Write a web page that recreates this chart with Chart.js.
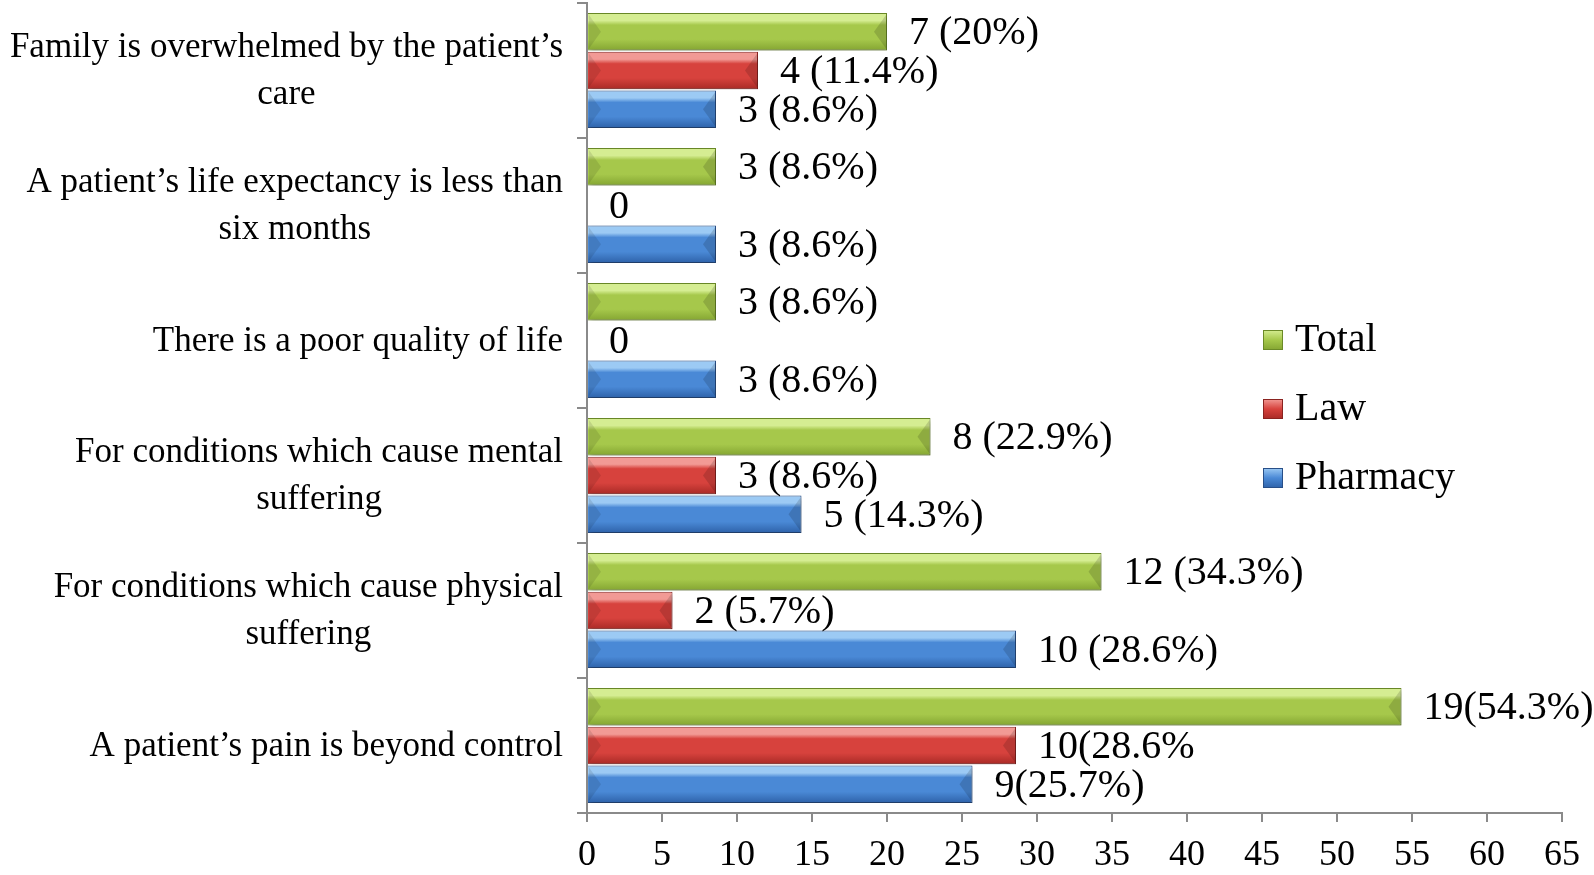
<!DOCTYPE html>
<html lang="en">
<head>
<meta charset="UTF-8" />
<title>Reasons for accepting euthanasia</title>
<script src="https://cdn.jsdelivr.net/npm/chart.js"></script>
<style>
  html, body { margin: 0; padding: 0; background: #ffffff; }
  #wrap { width: 1594px; height: 875px; position: relative; }
</style>
</head>
<body>
<div id="wrap"><canvas id="chart"></canvas></div>
<script>
// categories, top to bottom
const categories = [
  ["Family is overwhelmed by the patient’s", "care"],
  ["A patient’s life expectancy is less than", "six months"],
  ["There is a poor quality of life"],
  ["For conditions which cause mental", "suffering"],
  ["For conditions which cause physical", "suffering"],
  ["A patient’s pain is beyond control"]
];
const seriesNames = ["Total", "Law", "Pharmacy"];

// bar lengths are the percentages
const totalPct = [20, 8.6, 8.6, 22.9, 34.3, 54.3];
const lawPct = [11.4, 0, 0, 8.6, 5.7, 28.6];
const pharmacyPct = [8.6, 8.6, 8.6, 14.3, 28.6, 25.7];

// value labels as printed next to the bars
const totalLabels = ["7 (20%)", "3 (8.6%)", "3 (8.6%)", "8 (22.9%)", "12 (34.3%)", "19(54.3%)"];
const lawLabels = ["4 (11.4%)", "0", "0", "3 (8.6%)", "2 (5.7%)", "10(28.6%"];
const pharmacyLabels = ["3 (8.6%)", "3 (8.6%)", "3 (8.6%)", "5 (14.3%)", "10 (28.6%)", "9(25.7%)"];

const xTickValues = [0, 5, 10, 15, 20, 25, 30, 35, 40, 45, 50, 55, 60, 65];

const SERIF = "'Liberation Serif', 'Times New Roman', serif";
const AXIS_GREY = "#8a8a8a";
const CAT_PCT = 0.86;
const BAR_PCT = 0.97;

// light top -> mid -> dark bottom, border
const shades = {
  Total: ["#d5ed92", "#a6c84b", "#84a532", "#6b8a27"],
  Law: ["#f29a95", "#d7423d", "#a82a26", "#8a2320"],
  Pharmacy: ["#9ccaf4", "#4a89d6", "#2e62a9", "#284f88"]
};

function barFill(ctx, s) {
  const chart = ctx.chart;
  const y = chart.scales.y;
  if (!chart.chartArea || !y || ctx.type !== "data") return s[1];
  const catH = y.height / categories.length;
  const slot = (catH * CAT_PCT) / 3;
  const h = slot * BAR_PCT;
  const c = y.getPixelForValue(ctx.dataIndex) - (catH * CAT_PCT) / 2 + slot * (ctx.datasetIndex + 0.5);
  const g = chart.ctx.createLinearGradient(0, c - h / 2, 0, c + h / 2);
  g.addColorStop(0, s[0]);
  g.addColorStop(0.2, s[0]);
  g.addColorStop(0.32, s[1]);
  g.addColorStop(0.7, s[1]);
  g.addColorStop(1, s[2]);
  return g;
}

function makeSet(name, data, labels) {
  const s = shades[name];
  return {
    label: name,
    data: data,
    valueLabels: labels,
    backgroundColor: (ctx) => barFill(ctx, s),
    borderColor: s[3],
    borderWidth: 1,
    categoryPercentage: CAT_PCT,
    barPercentage: BAR_PCT
  };
}

// soft shadow under bars, bevelled ends, value labels
const barDecor = {
  id: "barDecor",
  beforeDatasetsDraw(chart) {
    const c = chart.ctx;
    c.save();
    c.shadowColor = "rgba(0,0,0,0.28)";
    c.shadowBlur = 5;
    c.shadowOffsetX = 2;
    c.shadowOffsetY = 3;
  },
  afterDatasetsDraw(chart) {
    const c = chart.ctx;
    c.restore();
    chart.data.datasets.forEach((ds, di) => {
      const meta = chart.getDatasetMeta(di);
      meta.data.forEach((el, i) => {
        const top = el.y - el.height / 2;
        const bot = el.y + el.height / 2;
        const w = el.x - el.base;
        if (w > 2) {
          const d = Math.min(el.height * 0.32, w / 2);
          c.save();
          c.fillStyle = "rgba(0,0,0,0.10)";
          c.beginPath();
          c.moveTo(el.base + 1, top + 2);
          c.lineTo(el.base + 1 + d, el.y);
          c.lineTo(el.base + 1, bot - 2);
          c.closePath();
          c.fill();
          c.fillStyle = "rgba(0,0,0,0.14)";
          c.beginPath();
          c.moveTo(el.x - 1, top + 2);
          c.lineTo(el.x - 1 - d, el.y);
          c.lineTo(el.x - 1, bot - 2);
          c.closePath();
          c.fill();
          c.restore();
        }
        c.save();
        c.font = "40px " + SERIF;
        c.fillStyle = "#000";
        c.textAlign = "left";
        c.textBaseline = "middle";
        c.fillText(ds.valueLabels[i], el.x + 22, el.y + 2);
        c.restore();
      });
    });
  },
  afterDraw(chart) {
    const c = chart.ctx;
    const y = chart.scales.y;
    // category labels, block right aligned, lines centred in block
    c.save();
    c.font = "35px " + SERIF;
    c.fillStyle = "#000";
    c.textBaseline = "middle";
    c.textAlign = "center";
    const right = 563;
    const lh = 47;
    categories.forEach((lines, i) => {
      const widest = Math.max(...lines.map((l) => c.measureText(l).width));
      const cx = right - widest / 2;
      const cy = y.getPixelForValue(i) + 1;
      lines.forEach((l, k) => {
        c.fillText(l, cx, cy + (k - (lines.length - 1) / 2) * lh);
      });
    });
    c.restore();

    // legend
    c.save();
    c.font = "40px " + SERIF;
    c.textBaseline = "middle";
    c.textAlign = "left";
    const legendY = [340, 409, 478];
    seriesNames.forEach((name, k) => {
      const s = shades[name];
      const sy = legendY[k];
      const g = c.createLinearGradient(0, sy - 10, 0, sy + 10);
      g.addColorStop(0, s[0]);
      g.addColorStop(0.5, s[1]);
      g.addColorStop(1, s[2]);
      c.fillStyle = g;
      c.fillRect(1263, sy - 10, 20, 20);
      c.strokeStyle = s[3];
      c.lineWidth = 1;
      c.strokeRect(1263.5, sy - 9.5, 19, 19);
      c.fillStyle = "#000";
      c.fillText(name, 1295, sy);
    });
    c.restore();
  }
};

Chart.defaults.font.family = SERIF;
Chart.defaults.color = "#000";

new Chart(document.getElementById("chart"), {
  type: "bar",
  data: {
    labels: categories,
    datasets: [
      makeSet("Total", totalPct, totalLabels),
      makeSet("Law", lawPct, lawLabels),
      makeSet("Pharmacy", pharmacyPct, pharmacyLabels)
    ]
  },
  options: {
    indexAxis: "y",
    responsive: true,
    maintainAspectRatio: false,
    animation: false,
    layout: { padding: { top: 3, right: 32, bottom: 0, left: 0 } },
    plugins: {
      legend: { display: false },
      tooltip: { enabled: false }
    },
    scales: {
      x: {
        min: 0,
        max: 65,
        afterBuildTicks: (s) => { s.ticks = xTickValues.map((v) => ({ value: v })); },
        afterFit: (s) => { s.height = 62; },
        ticks: { font: { size: 36 }, color: "#000", padding: 12, maxRotation: 0 },
        grid: { drawOnChartArea: false, drawTicks: true, tickLength: 9, color: AXIS_GREY, lineWidth: 2 },
        border: { color: AXIS_GREY, width: 2 }
      },
      y: {
        afterFit: (s) => { s.width = 587; },
        ticks: { display: false },
        grid: { drawOnChartArea: false, drawTicks: true, tickLength: 10, color: AXIS_GREY, lineWidth: 2, offset: true },
        border: { color: AXIS_GREY, width: 2 }
      }
    }
  },
  plugins: [barDecor]
});
</script>
</body>
</html>
